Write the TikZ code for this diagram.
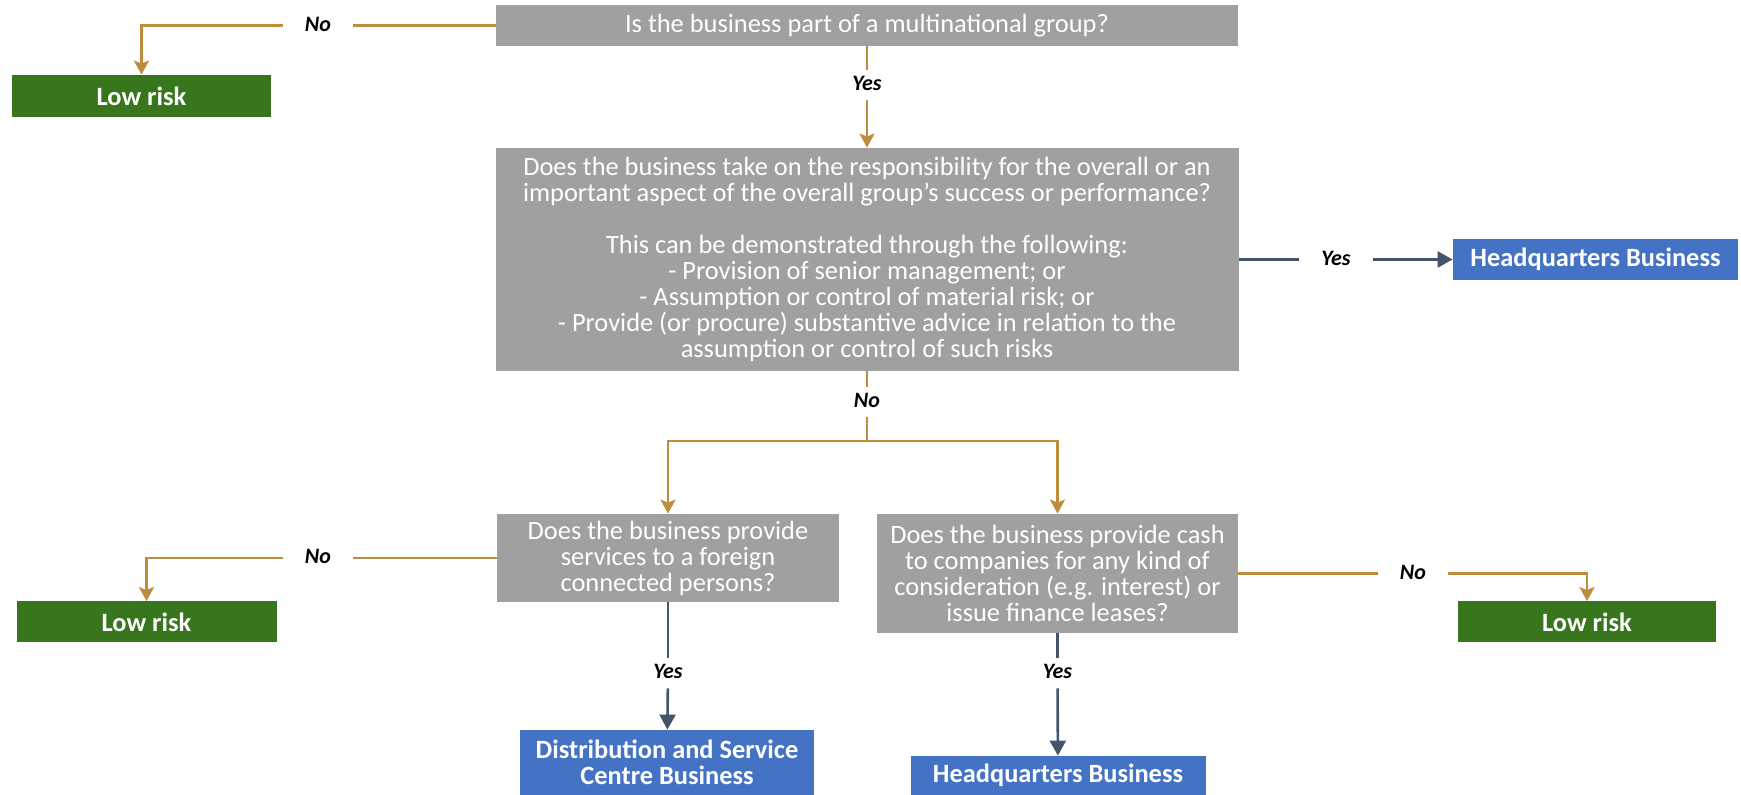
\documentclass[tikz,border=0pt]{standalone}
\usepackage{fontspec}
\setmainfont{Carlito}
\usetikzlibrary{arrows.meta}

\definecolor{qgray}{RGB}{160,160,160}
\definecolor{riskgreen}{RGB}{56,118,29}
\definecolor{outblue}{RGB}{68,114,196}
\definecolor{linkgoldc}{RGB}{189,140,60}
\definecolor{linkslatec}{RGB}{68,84,106}

\tikzset{
    question/.style={fill=qgray, text=white, align=center, inner sep=0pt, font=\fontsize{13.2}{13}\selectfont},
    outcome/.style={fill=outblue, text=white, align=center, inner sep=0pt, font=\fontsize{13.2}{13}\selectfont\bfseries},
    lowrisk/.style={outcome, fill=riskgreen},
    answer/.style={font=\fontsize{11}{12}\selectfont\bfseries\itshape, inner xsep=11pt, inner ysep=3.5pt, text height=7pt, text depth=1pt},
    linkgold/.style={draw=linkgoldc, line width=1.3pt, -{Stealth[length=7pt, width=7.5pt, inset=1.5pt]}},
    linkslate/.style={draw=linkslatec, line width=1.3pt, -{Triangle[length=7.5pt, width=8pt]}},
    plain/.style={-}
}

\begin{document}
\begin{tikzpicture}[x=0.5pt, y=-0.5pt]

    \useasboundingbox (0,0) rectangle (1741,795);

    \node[question, minimum width=371pt, minimum height=20.5pt] (q1) at (867,25.5) {Is the business part of a multinational group?};
    \node[lowrisk, minimum width=129.5pt, minimum height=21pt] (lr1) at (141.5,96) {Low risk};
    \node[question, minimum width=371.5pt, minimum height=111.5pt] (q2) at (867,259.5) {Does the business take on the responsibility for the overall or an\\ important aspect of the overall group’s success or performance?\\[13pt] This can be demonstrated through the following:\\ - Provision of senior management; or\\ - Assumption or control of material risk; or\\ - Provide (or procure) substantive advice in relation to the\\ assumption or control of such risks};
    \node[outcome, minimum width=142.5pt, minimum height=20.5pt] (hq1) at (1595.5,259.5) {Headquarters Business};
    \node[question, minimum width=171pt, minimum height=44pt] (q3) at (668,558) {Does the business provide\\ services to a foreign\\ connected persons?};
    \node[question, minimum width=180.5pt, minimum height=59.5pt] (q4) at (1057.5,573.5) {Does the business provide cash\\ to companies for any kind of\\ consideration (e.g. interest) or\\ issue finance leases?};
    \node[lowrisk, minimum width=130pt, minimum height=20.5pt] (lr2) at (146.5,622) {Low risk};
    \node[lowrisk, minimum width=129pt, minimum height=20.5pt] (lr3) at (1587,622) {Low risk};
    \node[outcome, minimum width=147pt, minimum height=32.5pt] (dsc) at (667,762.5) {Distribution and Service\\ Centre Business};
    \node[outcome, minimum width=147.5pt, minimum height=19.5pt] (hq2) at (1058,775.5) {Headquarters Business};

    \node[answer] (no1) at (318,25.5) {No};
    \node[answer] (yes1) at (867,85) {Yes};
    \node[answer] (yes2) at (1336,259.5) {Yes};
    \node[answer] (no2) at (867,402) {No};
    \node[answer] (no3) at (318,558) {No};
    \node[answer] (no4) at (1413,573.5) {No};
    \node[answer] (yes3) at (668,673) {Yes};
    \node[answer] (yes4) at (1057.5,673) {Yes};
    \coordinate (split) at (867,441);

    \draw[linkgold, plain] (q1) -- (no1);
    \draw[linkgold] (no1) -| (lr1);
    \draw[linkgold, plain] (q1) -- (yes1);
    \draw[linkgold] (yes1) -- (q2);
    \draw[linkslate, plain] (q2) -- (yes2);
    \draw[linkslate] (yes2) -- (hq1);
    \draw[linkgold, plain] (q2) -- (no2);
    \draw[linkgold, plain] (no2) -- (split);
    \draw[linkgold] (split) -| (q3);
    \draw[linkgold] (split) -| (q4);
    \draw[linkgold, plain] (q3) -- (no3);
    \draw[linkgold] (no3) -| (lr2);
    \draw[linkgold, plain] (q4) -- (no4);
    \draw[linkgold] (no4) -| (lr3);
    \draw[linkslate, plain] (q3) -- (yes3);
    \draw[linkslate] (yes3) -- (dsc);
    \draw[linkslate, plain] (q4) -- (yes4);
    \draw[linkslate] (yes4) -- (hq2);

\end{tikzpicture}
\end{document}
